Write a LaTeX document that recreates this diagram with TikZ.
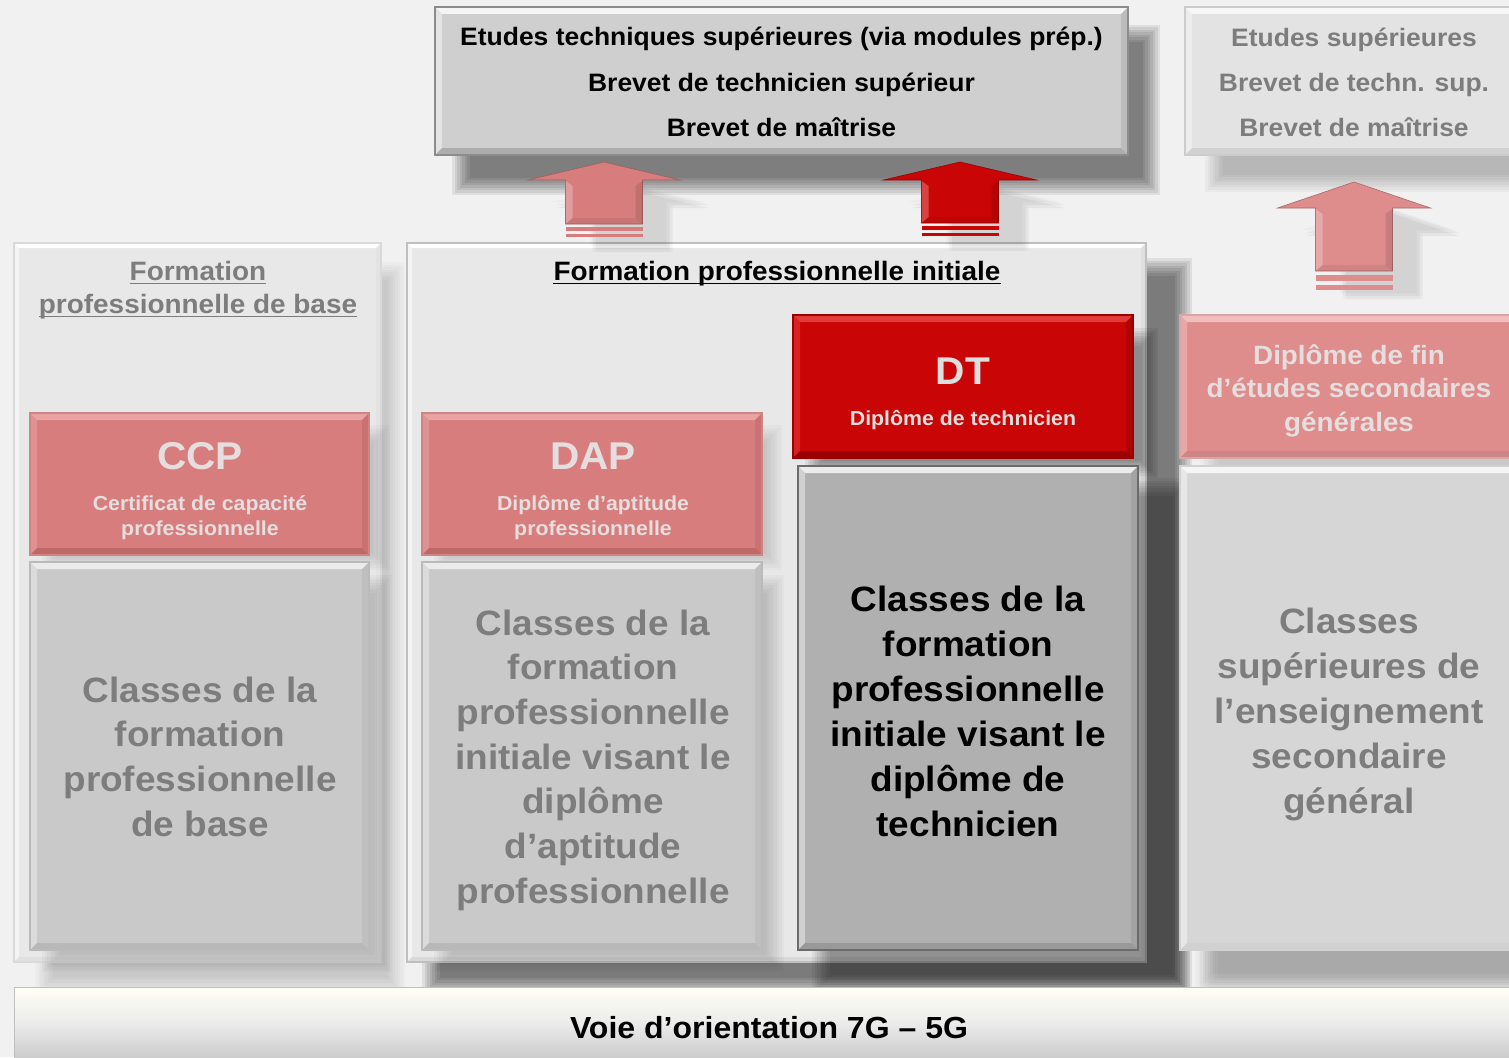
\documentclass[tikz,border=0pt]{standalone}
\usepackage{fontspec}
\setmainfont{Liberation Sans}[FakeStretch=1.05]
\usetikzlibrary{calc}
\definecolor{bg}{HTML}{F1F1F1}
\definecolor{panel}{HTML}{E8E8E8}
\definecolor{fadedtext}{HTML}{7D7D7D}
\definecolor{fadedred}{HTML}{D77D7D}
\definecolor{fadedredlt}{HTML}{E9A3A3}
\definecolor{fadedreddk}{HTML}{C06868}
\definecolor{fadedredtext}{HTML}{E6DEDE}
\definecolor{ddred}{HTML}{CA0505}
\definecolor{ddredlt}{HTML}{E23A3A}
\definecolor{ddreddk}{HTML}{9A0000}
\definecolor{redtext}{HTML}{DEDEDE}
\definecolor{fgrey}{HTML}{C9C9C9}
\definecolor{dtgrey}{HTML}{B0B0B0}
\definecolor{topgrey}{HTML}{CFCFCF}
\definecolor{rgrey}{HTML}{D6D6D6}
\definecolor{rred}{HTML}{DE8C8C}

\newcommand\softshadow[6]{\foreach \k in {0,...,7}{\fill[#5,fill opacity=#6] ({#1+\k*2.5},{#2+\k*2.5}) rectangle ({#3-\k*2.5},{#4-\k*2.5});}}
\newcommand\mkbox[6]{\node[#6, anchor=north west, inner sep=0pt, outer sep=0pt, minimum width={(#4)-(#2)}, minimum height={(#5)-(#3)}] (#1) at (#2,#3) {};}
\newcommand\bevel[5]{%
 \fill[#3] (#1.north west) -- (#1.north east) -- ($(#1.north east)+(-#2,#2)$) -- ($(#1.north west)+(#2,#2)$) -- cycle;
 \fill[#3,fill opacity=.55] (#1.north west) -- ($(#1.north west)+(#2,#2)$) -- ($(#1.south west)+(#2,-#2)$) -- (#1.south west) -- cycle;
 \fill[#4,fill opacity=.55] (#1.north east) -- ($(#1.north east)+(-#2,#2)$) -- ($(#1.south east)+(-#2,-#2)$) -- (#1.south east) -- cycle;
 \fill[#4] (#1.south west) -- (#1.south east) -- ($(#1.south east)+(-#2,-#2)$) -- ($(#1.south west)+(#2,-#2)$) -- cycle;
 \draw[#5, line width=1.2] (#1.north west) rectangle (#1.south east);}
\newcommand\textlines[6]{\foreach \t [count=\i] in {#6}{\node[#5, anchor=base, inner sep=0pt] (#1-\i) at (#2,{#3+(\i-1)*#4}) {\t};}}
\newcommand\blkarrow[8]{%
 \coordinate (#1) at (#2,#3);
 \pgfmathsetmacro\sf{(#4-#3)/18}
 \foreach \dx/\dy in {24/22,27/25,30/28,27/28,30/25}{
 \fill[black, fill opacity=.022] ({#2+\dx},{#3+\dy}) -- ({#2+#5+\dx},{#4+\dy}) -- ({#2+#6+\dx},{#4+\dy}) -- ({#2+#6+\dx},{#7+\dy}) -- ({#2-#6+\dx},{#7+\dy}) -- ({#2-#6+\dx},{#4+\dy}) -- ({#2-#5+\dx},{#4+\dy}) -- cycle;}
 \fill[#8, draw=#8!75!black, line width=.6] (#2,#3) -- ({#2+#5},#4) -- ({#2+#6},#4) -- ({#2+#6},#7) -- ({#2-#6},#7) -- ({#2-#6},#4) -- ({#2-#5},#4) -- cycle;
 \fill[white, fill opacity=.25] ({#2-#6},{#4+1}) -- ({#2-#6+7},{#4+6}) -- ({#2-#6+7},{#7-6}) -- ({#2-#6},{#7}) -- cycle;
 \fill[black, fill opacity=.10] ({#2+#6},{#4+1}) -- ({#2+#6-7},{#4+6}) -- ({#2+#6-7},{#7-6}) -- ({#2+#6},{#7}) -- cycle;
 \fill[black, fill opacity=.06] ({#2-#6},{#7}) -- ({#2-#6+7},{#7-6}) -- ({#2+#6-7},{#7-6}) -- ({#2+#6},{#7}) -- cycle;
 \fill[#8] ({#2-#6},{#7+3*\sf}) rectangle ({#2+#6},{#7+7*\sf});
 \fill[#8] ({#2-#6},{#7+10*\sf}) rectangle ({#2+#6},{#7+13*\sf});}

\tikzset{
 toptxt/.style={font=\bfseries\fontsize{25.2}{30}\selectfont},
 ttl/.style={font=\bfseries\fontsize{26.6}{32}\selectfont},
 big/.style={font=\bfseries\fontsize{38.7}{44}\selectfont},
 sub/.style={font=\bfseries\fontsize{20.3}{24}\selectfont},
 rtxt/.style={font=\bfseries\fontsize{26.5}{30}\selectfont},
 cls/.style={font=\bfseries\fontsize{35.2}{40}\selectfont},
 bar/.style={font=\bfseries\fontsize{30.5}{36}\selectfont},
}

\begin{document}
\begin{tikzpicture}[x=1pt,y=-1pt]
\useasboundingbox (0,0) rectangle (1509,1057);
\fill[bg] (0,0) rectangle (1509,1057);

% panel shadows
\softshadow{35}{262}{405}{995}{black}{0.02}
\softshadow{422}{258}{1192}{995}{black}{0.08}
\softshadow{1200}{335}{1540}{995}{black}{0.02}
\softshadow{452}{25}{1160}{195}{black}{0.075}
\softshadow{1205}{25}{1540}{192}{black}{0.03}

% panels
\mkbox{leftpanel}{14}{243}{381}{962}{fill=panel}
\bevel{leftpanel}{5}{white}{black!12}{black!15}
\mkbox{midpanel}{407}{243}{1146}{962}{fill=panel}
\bevel{midpanel}{5}{white}{black!15}{black!25}

% titles
\node[ttl, text=fadedtext, anchor=base, inner sep=0pt] (lt1) at (198,280) {Formation};
\node[ttl, text=fadedtext, anchor=base, inner sep=0pt] (lt2) at (198,313) {professionnelle de base};
\draw[fadedtext, line width=1.8] ($(lt1.base west)+(0,3.5)$) -- ($(lt1.base east)+(0,3.5)$);
\draw[fadedtext, line width=1.8] ($(lt2.base west)+(0,3.5)$) -- ($(lt2.base east)+(0,3.5)$);
\node[ttl, text=black, anchor=base, inner sep=0pt] (mt) at (777,280) {Formation professionnelle initiale};
\draw[black, line width=1.8] ($(mt.base west)+(0,3.5)$) -- ($(mt.base east)+(0,3.5)$);

% inner shadows
\softshadow{42}{425}{390}{570}{black}{0.02}
\softshadow{42}{575}{392}{972}{black}{0.025}
\softshadow{434}{425}{782}{570}{black}{0.02}
\softshadow{434}{575}{784}{972}{black}{0.025}
\softshadow{805}{328}{1158}{478}{black}{0.06}
\softshadow{812}{478}{1190}{992}{black}{0.055}
\softshadow{1195}{478}{1540}{990}{black}{0.02}

% CCP column
\mkbox{ccp}{30}{413}{369}{555}{fill=fadedred}
\bevel{ccp}{7}{fadedredlt}{fadedreddk}{fadedreddk!80!white}
\node[big, text=fadedredtext, anchor=base, inner sep=0pt] (ccpt) at (200,469) {CCP};
\textlines{ccps}{200}{510}{25}{sub, text=fadedredtext}{Certificat de capacité,professionnelle}
\mkbox{ccpcl}{30}{562}{369}{950}{fill=fgrey}
\bevel{ccpcl}{7}{black!8}{black!28}{black!27}
\textlines{ccpc}{200}{702}{44.7}{cls, text=fadedtext}{Classes de la,formation,professionnelle,de base}

% DAP column
\mkbox{dap}{422}{413}{762}{555}{fill=fadedred}
\bevel{dap}{7}{fadedredlt}{fadedreddk}{fadedreddk!80!white}
\node[big, text=fadedredtext, anchor=base, inner sep=0pt] (dapt) at (593,469) {DAP};
\textlines{daps}{593}{510}{25}{sub, text=fadedredtext}{Diplôme d’aptitude,professionnelle}
\mkbox{dapcl}{422}{562}{762}{950}{fill=fgrey}
\bevel{dapcl}{7}{black!8}{black!28}{black!27}
\textlines{dapc}{593}{635}{44.7}{cls, text=fadedtext}{Classes de la,formation,professionnelle,initiale visant le,diplôme,d’aptitude,professionnelle}

% DT column
\mkbox{dt}{793}{315}{1133}{458}{fill=ddred}
\bevel{dt}{7}{ddredlt}{ddreddk}{ddreddk}
\node[big, text=redtext, anchor=base, inner sep=0pt] (dtt) at (963,384) {DT};
\node[sub, text=redtext, anchor=base, inner sep=0pt] (dts) at (963,425.5) {Diplôme de technicien};
\mkbox{dtcl}{798}{466}{1138}{950}{fill=dtgrey}
\bevel{dtcl}{7}{black!8}{black!40}{black!58}
\textlines{dtc}{968}{611}{45}{cls, text=black}{Classes de la,formation,professionnelle,initiale visant le,diplôme de,technicien}

% right column
\mkbox{rr}{1180}{315}{1520}{458}{fill=rred}
\bevel{rr}{7}{fadedredlt!70!white}{fadedreddk!80!white}{fadedreddk!60!white}
\textlines{rrt}{1349}{364}{33.5}{rtxt, text=fadedredtext}{Diplôme de fin,d’études secondaires,générales}
\mkbox{rcl}{1180}{466}{1520}{950}{fill=rgrey}
\bevel{rcl}{7}{black!4}{black!18}{black!18}
\textlines{rc}{1349}{633}{45}{cls, text=fadedtext}{Classes,supérieures de,l’enseignement,secondaire,général}

% arrows
\blkarrow{a1}{604}{162}{180}{76}{38.5}{224}{fadedred}
\blkarrow{a2}{960}{162}{180}{76.5}{38.5}{223}{ddred}
\blkarrow{a3}{1354}{182}{208}{76.5}{38.5}{271}{rred}

% top boxes
\mkbox{top}{435}{7}{1128}{155}{fill=topgrey}
\bevel{top}{7}{black!4}{black!32}{black!45}
\textlines{topt}{781.5}{46}{45}{toptxt, text=black}{Etudes techniques supérieures (via modules prép.),Brevet de technicien supérieur,Brevet de maîtrise}
\mkbox{topr}{1185}{7}{1520}{155}{fill=black!11}
\bevel{topr}{7}{black!3}{black!18}{black!20}
\textlines{toprt}{1354}{47}{44.5}{toptxt, text=fadedtext}{Etudes supérieures,Brevet de techn. sup.,Brevet de maîtrise}

% bottom bar
\node[anchor=north west, inner sep=0pt, outer sep=0pt, minimum width=1510pt, minimum height=75pt, top color=white!96!yellow, bottom color=black!22, middle color=black!8] (barbox) at (14,987) {};
\draw[black!25, line width=1] (14,1060) -- (14,987) -- (1520,987);
\node[bar, text=black, anchor=base, inner sep=0pt] (bart) at (769,1038) {Voie d’orientation 7G – 5G};
\end{tikzpicture}
\end{document}
